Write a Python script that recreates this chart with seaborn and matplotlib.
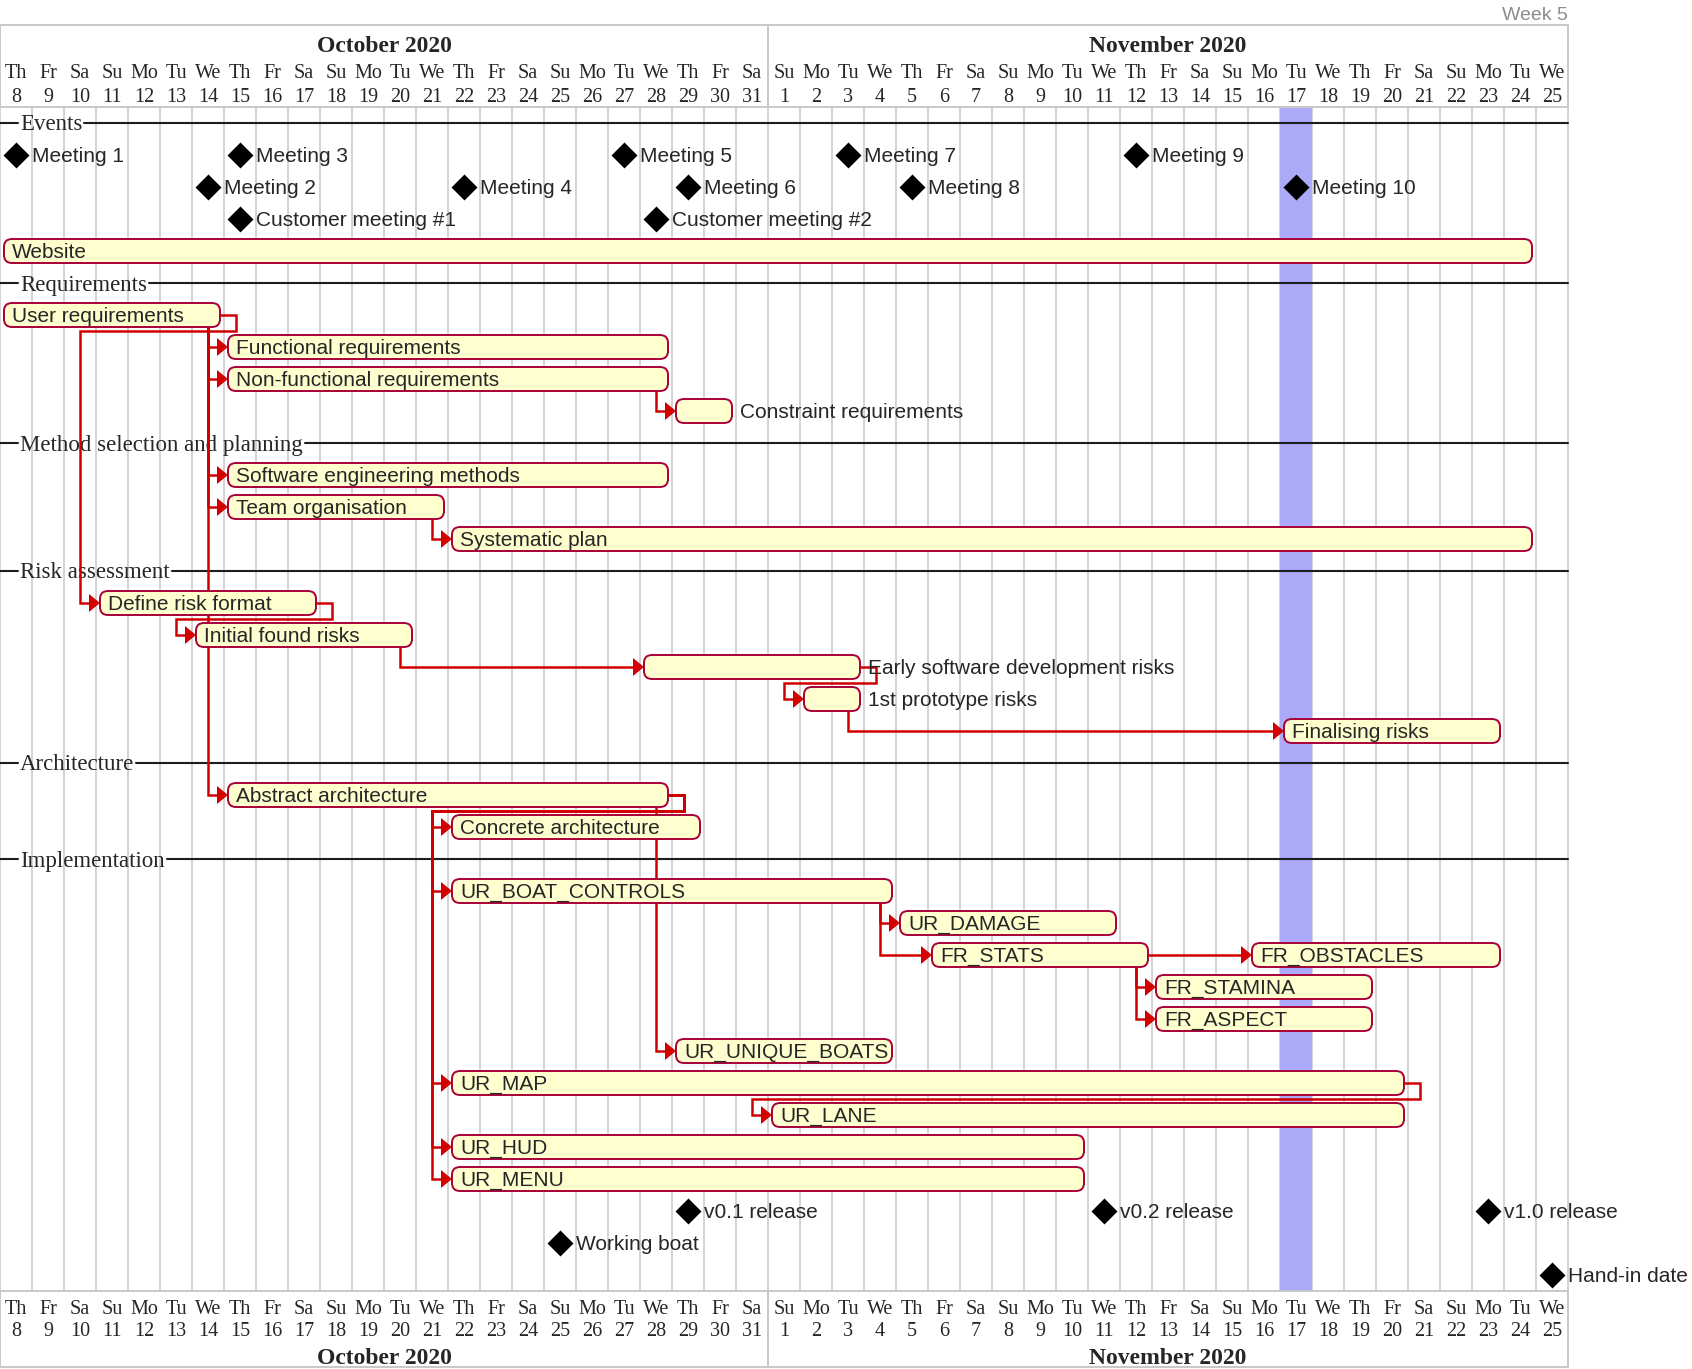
import matplotlib
matplotlib.use("Agg")
import matplotlib.pyplot as plt
from matplotlib.patches import FancyBboxPatch, Polygon, Rectangle
import seaborn as sns
import pandas as pd

# ---- data ----
first_day = "2020-10-08"
last_day = "2020-11-25"
today = "2020-11-17"
week_label = "Week 5"

milestone_names = ["Meeting 1", "Meeting 2", "Meeting 3", "Meeting 4", "Meeting 5",
                   "Meeting 6", "Meeting 7", "Meeting 8", "Meeting 9", "Meeting 10",
                   "Customer meeting #1", "Customer meeting #2",
                   "v0.1 release", "v0.2 release", "v1.0 release",
                   "Working boat", "Hand-in date"]
milestone_dates = ["2020-10-08", "2020-10-14", "2020-10-15", "2020-10-22", "2020-10-27",
                   "2020-10-29", "2020-11-03", "2020-11-05", "2020-11-12", "2020-11-17",
                   "2020-10-15", "2020-10-28",
                   "2020-10-29", "2020-11-11", "2020-11-23",
                   "2020-10-25", "2020-11-25"]

task_names = ["Website", "User requirements", "Functional requirements",
              "Non-functional requirements", "Constraint requirements",
              "Software engineering methods", "Team organisation", "Systematic plan",
              "Define risk format", "Initial found risks", "Early software development risks",
              "1st prototype risks", "Finalising risks",
              "Abstract architecture", "Concrete architecture",
              "UR_BOAT_CONTROLS", "UR_DAMAGE", "FR_STATS", "FR_OBSTACLES",
              "FR_STAMINA", "FR_ASPECT", "UR_UNIQUE_BOATS", "UR_MAP", "UR_LANE",
              "UR_HUD", "UR_MENU"]
task_starts = ["2020-10-08", "2020-10-08", "2020-10-15",
               "2020-10-15", "2020-10-29",
               "2020-10-15", "2020-10-15", "2020-10-22",
               "2020-10-11", "2020-10-14", "2020-10-28",
               "2020-11-02", "2020-11-17",
               "2020-10-15", "2020-10-22",
               "2020-10-22", "2020-11-05", "2020-11-06", "2020-11-16",
               "2020-11-13", "2020-11-13", "2020-10-29", "2020-10-22", "2020-11-01",
               "2020-10-22", "2020-10-22"]
task_ends = ["2020-11-24", "2020-10-14", "2020-10-28",
             "2020-10-28", "2020-10-30",
             "2020-10-28", "2020-10-21", "2020-11-24",
             "2020-10-17", "2020-10-20", "2020-11-03",
             "2020-11-03", "2020-11-23",
             "2020-10-28", "2020-10-29",
             "2020-11-04", "2020-11-11", "2020-11-12", "2020-11-23",
             "2020-11-19", "2020-11-19", "2020-11-04", "2020-11-20", "2020-11-20",
             "2020-11-10", "2020-11-10"]

links = [("User requirements", "Functional requirements"),
         ("User requirements", "Non-functional requirements"),
         ("User requirements", "Software engineering methods"),
         ("User requirements", "Team organisation"),
         ("User requirements", "Abstract architecture"),
         ("User requirements", "Define risk format"),
         ("Non-functional requirements", "Constraint requirements"),
         ("Team organisation", "Systematic plan"),
         ("Define risk format", "Initial found risks"),
         ("Initial found risks", "Early software development risks"),
         ("Early software development risks", "1st prototype risks"),
         ("1st prototype risks", "Finalising risks"),
         ("Abstract architecture", "Concrete architecture"),
         ("Abstract architecture", "UR_BOAT_CONTROLS"),
         ("Abstract architecture", "UR_UNIQUE_BOATS"),
         ("Abstract architecture", "UR_MAP"),
         ("Abstract architecture", "UR_HUD"),
         ("Abstract architecture", "UR_MENU"),
         ("UR_BOAT_CONTROLS", "UR_DAMAGE"),
         ("UR_BOAT_CONTROLS", "FR_STATS"),
         ("FR_STATS", "FR_OBSTACLES"),
         ("FR_STATS", "FR_STAMINA"),
         ("FR_STATS", "FR_ASPECT"),
         ("UR_MAP", "UR_LANE")]

# display order: a string is a section separator, a list is one line of items
lanes = [
    "Events",
    ["Meeting 1", "Meeting 3", "Meeting 5", "Meeting 7", "Meeting 9"],
    ["Meeting 2", "Meeting 4", "Meeting 6", "Meeting 8", "Meeting 10"],
    ["Customer meeting #1", "Customer meeting #2"],
    ["Website"],
    "Requirements",
    ["User requirements"],
    ["Functional requirements"],
    ["Non-functional requirements"],
    ["Constraint requirements"],
    "Method selection and planning",
    ["Software engineering methods"],
    ["Team organisation"],
    ["Systematic plan"],
    "Risk assessment",
    ["Define risk format"],
    ["Initial found risks"],
    ["Early software development risks"],
    ["1st prototype risks"],
    ["Finalising risks"],
    "Architecture",
    ["Abstract architecture"],
    ["Concrete architecture"],
    "Implementation",
    ["UR_BOAT_CONTROLS"],
    ["UR_DAMAGE"],
    ["FR_STATS", "FR_OBSTACLES"],
    ["FR_STAMINA"],
    ["FR_ASPECT"],
    ["UR_UNIQUE_BOATS"],
    ["UR_MAP"],
    ["UR_LANE"],
    ["UR_HUD"],
    ["UR_MENU"],
    ["v0.1 release", "v0.2 release", "v1.0 release"],
    ["Working boat"],
    ["Hand-in date"],
]

# ---- styles ----
sns.set_theme(style="white")
plt.rcParams["font.family"] = ["Liberation Sans", "DejaVu Sans"]
SERIF = ["Liberation Serif", "DejaVu Serif"]
GRID = "#c8c8c8"
BAR_FILL = "#fefece"
BAR_EDGE = "#a80036"
ARROW = "#d10000"
TODAY = "#aaaaf9"

PX = 1 / 32  # one pixel in data units (a day is 32 px wide, a row 32 px tall)
DY = 2 * PX  # small downward nudge for text

t0 = pd.Timestamp(first_day)
days = pd.date_range(first_day, last_day)
n_days = len(days)


def day(s):
    return (pd.Timestamp(s) - t0).days


fig = plt.figure(figsize=(16.92, 13.69), dpi=100)
ax = fig.add_axes([0, 0, 1, 1])
ax.set_xlim(0, 1692 * PX)
ax.set_ylim(1369 * PX, 0)
ax.set_autoscale_on(False)

# row positions
row_y = {}
section_rows = []
for r, lane in enumerate(lanes):
    y = 123 * PX + r
    if isinstance(lane, str):
        section_rows.append((lane, y))
    else:
        for item in lane:
            row_y[item] = y
grid_top = 107 * PX
grid_bot = 123 * PX + len(lanes) - 0.5

# grid and today column
ax.vlines(range(n_days + 1), grid_top, grid_bot, color=GRID, lw=1.1, zorder=1)
ax.add_patch(Rectangle((day(today), grid_top), 1, grid_bot - grid_top,
                       facecolor=TODAY, edgecolor="none", zorder=2))


# headers
def draw_header(top, bottom, y_dow, y_dom, y_month):
    ax.add_patch(Rectangle((0, top), n_days, bottom - top, fill=False,
                           edgecolor=GRID, lw=1.4, zorder=2))
    for i, d in enumerate(days):
        ax.text(i + 0.5, y_dow, d.strftime("%a")[:2], ha="center", va="center",
                family=SERIF, size=14.5)
        ax.text(i + 0.5, y_dom, str(d.day), ha="center", va="center",
                family=SERIF, size=14.5)
        if d.day == 1:
            ax.plot([i, i], [top, bottom], color=GRID, lw=1.4, zorder=2)
    for m, grp in pd.Series(range(n_days), index=days).groupby(days.month):
        ax.text(grp.values.mean() + 0.5, y_month, grp.index[0].strftime("%B %Y"),
                ha="center", va="center", family=SERIF, size=17, weight="bold")


draw_header(25 * PX, grid_top, 74 * PX, 98 * PX, 46 * PX)
draw_header(grid_bot, grid_bot + 76 * PX, grid_bot + 18 * PX, grid_bot + 41 * PX,
            grid_bot + 68 * PX)
ax.text(n_days, 15 * PX, week_label, ha="right", va="center", color="#8c8c8c", size=14)

renderer = fig.canvas.get_renderer()


def text_span(t):
    bb = t.get_window_extent(renderer)
    inv = ax.transData.inverted()
    x0 = inv.transform((bb.x0, bb.y0))[0]
    x1 = inv.transform((bb.x1, bb.y0))[0]
    return x0, x1


# section separators
for name, y in section_rows:
    t = ax.text(20 * PX, y + DY, name, ha="left", va="center", family=SERIF, size=16.5,
                zorder=3)
    x0, x1 = text_span(t)
    ax.plot([0, x0 - 2 * PX], [y, y], color="#1e1e1e", lw=1.5, zorder=3)
    ax.plot([x1 + 2 * PX, n_days], [y, y], color="#1e1e1e", lw=1.5, zorder=3)

# tasks
span = {n: (day(s), day(e) + 1) for n, s, e in zip(task_names, task_starts, task_ends)}
for name in task_names:
    a, b = span[name]
    y = row_y[name]
    ax.add_patch(FancyBboxPatch((a + 4 * PX, y - 12 * PX), (b - a) - 8 * PX, 24 * PX,
                                boxstyle=f"round,pad=0,rounding_size={8 * PX}",
                                facecolor=BAR_FILL, edgecolor=BAR_EDGE, lw=1.4, zorder=5))
    t = ax.text(a + 12 * PX, y + DY, name, ha="left", va="center", size=15, zorder=6)
    x0, x1 = text_span(t)
    if x1 > b:
        t.set_x(b + 4 * PX)

# dependency arrows
for src, dst in links:
    s0, s1 = span[src]
    d0, d1 = span[dst]
    ys, yt = row_y[src], row_y[dst]
    tip = d0 + 4 * PX
    base = tip - 11 * PX
    if ys == yt:
        xs, yv = [s1 - 4 * PX, base], [ys, ys]
    elif d0 >= s1:
        xv = s1 - 16 * PX
        xs, yv = [xv, xv, base], [ys, yt, yt]
    else:
        xr = s1 + 12 * PX
        xl = d0 - 16 * PX
        yb = ys + 16 * PX
        xs = [s1 - 4 * PX, xr, xr, xl, xl, base]
        yv = [ys, ys, yb, yb, yt, yt]
    ax.plot(xs, yv, color=ARROW, lw=1.8, solid_joinstyle="miter", zorder=4)
    ax.add_patch(Polygon([[tip, yt], [base, yt - 9 * PX], [base, yt + 9 * PX]],
                         closed=True, facecolor=ARROW, edgecolor="none", zorder=4))

# milestones
ms = pd.DataFrame({"name": milestone_names,
                   "x": [day(d) + 0.5 for d in milestone_dates],
                   "y": [row_y[n] for n in milestone_names]})
sns.scatterplot(data=ms, x="x", y="y", marker="D", s=175, color="black",
                linewidth=0, legend=False, ax=ax, zorder=6)
for _, r in ms.iterrows():
    ax.text(r["x"] + 0.5, r["y"] + DY, r["name"], ha="left", va="center", size=15,
            zorder=6)

ax.set_xlim(0, 1692 * PX)
ax.set_ylim(1369 * PX, 0)
ax.axis("off")
fig.savefig("out.png", dpi=100)
